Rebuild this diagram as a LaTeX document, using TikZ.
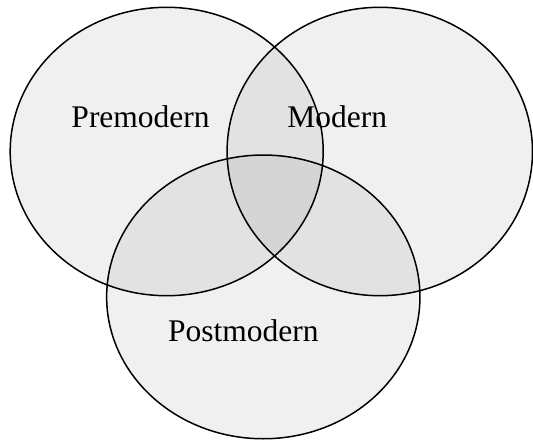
\documentclass[tikz,border=0pt]{standalone}
\usepackage{fontspec}
\setmainfont{Liberation Serif}
\usetikzlibrary{shapes.geometric}
\begin{document}
\begin{tikzpicture}[x=1pt,y=-1pt,
  venn/.style={ellipse, draw=black, line width=1.5pt, fill=black, fill opacity=0.06, draw opacity=1, inner sep=0pt},
  lbl/.style={anchor=base, inner sep=0pt, font=\fontsize{31.5}{36}\selectfont, text=black}]
\useasboundingbox (0,0) rectangle (533,441);
\node[venn, minimum width=313pt, minimum height=288.4pt] (pre) at (166.7,151.5) {};
\node[venn, minimum width=305.4pt, minimum height=288.4pt] (mod) at (379.8,151.5) {};
\node[venn, minimum width=313.3pt, minimum height=283.7pt] (post) at (263.3,296.9) {};
\node[lbl] (tpre) at (140.6,127.6) {Premodern};
\node[lbl] (tmod) at (337.2,127.6) {Modern};
\node[lbl] (tpost) at (243.4,341.7) {Postmodern};
\end{tikzpicture}
\end{document}
